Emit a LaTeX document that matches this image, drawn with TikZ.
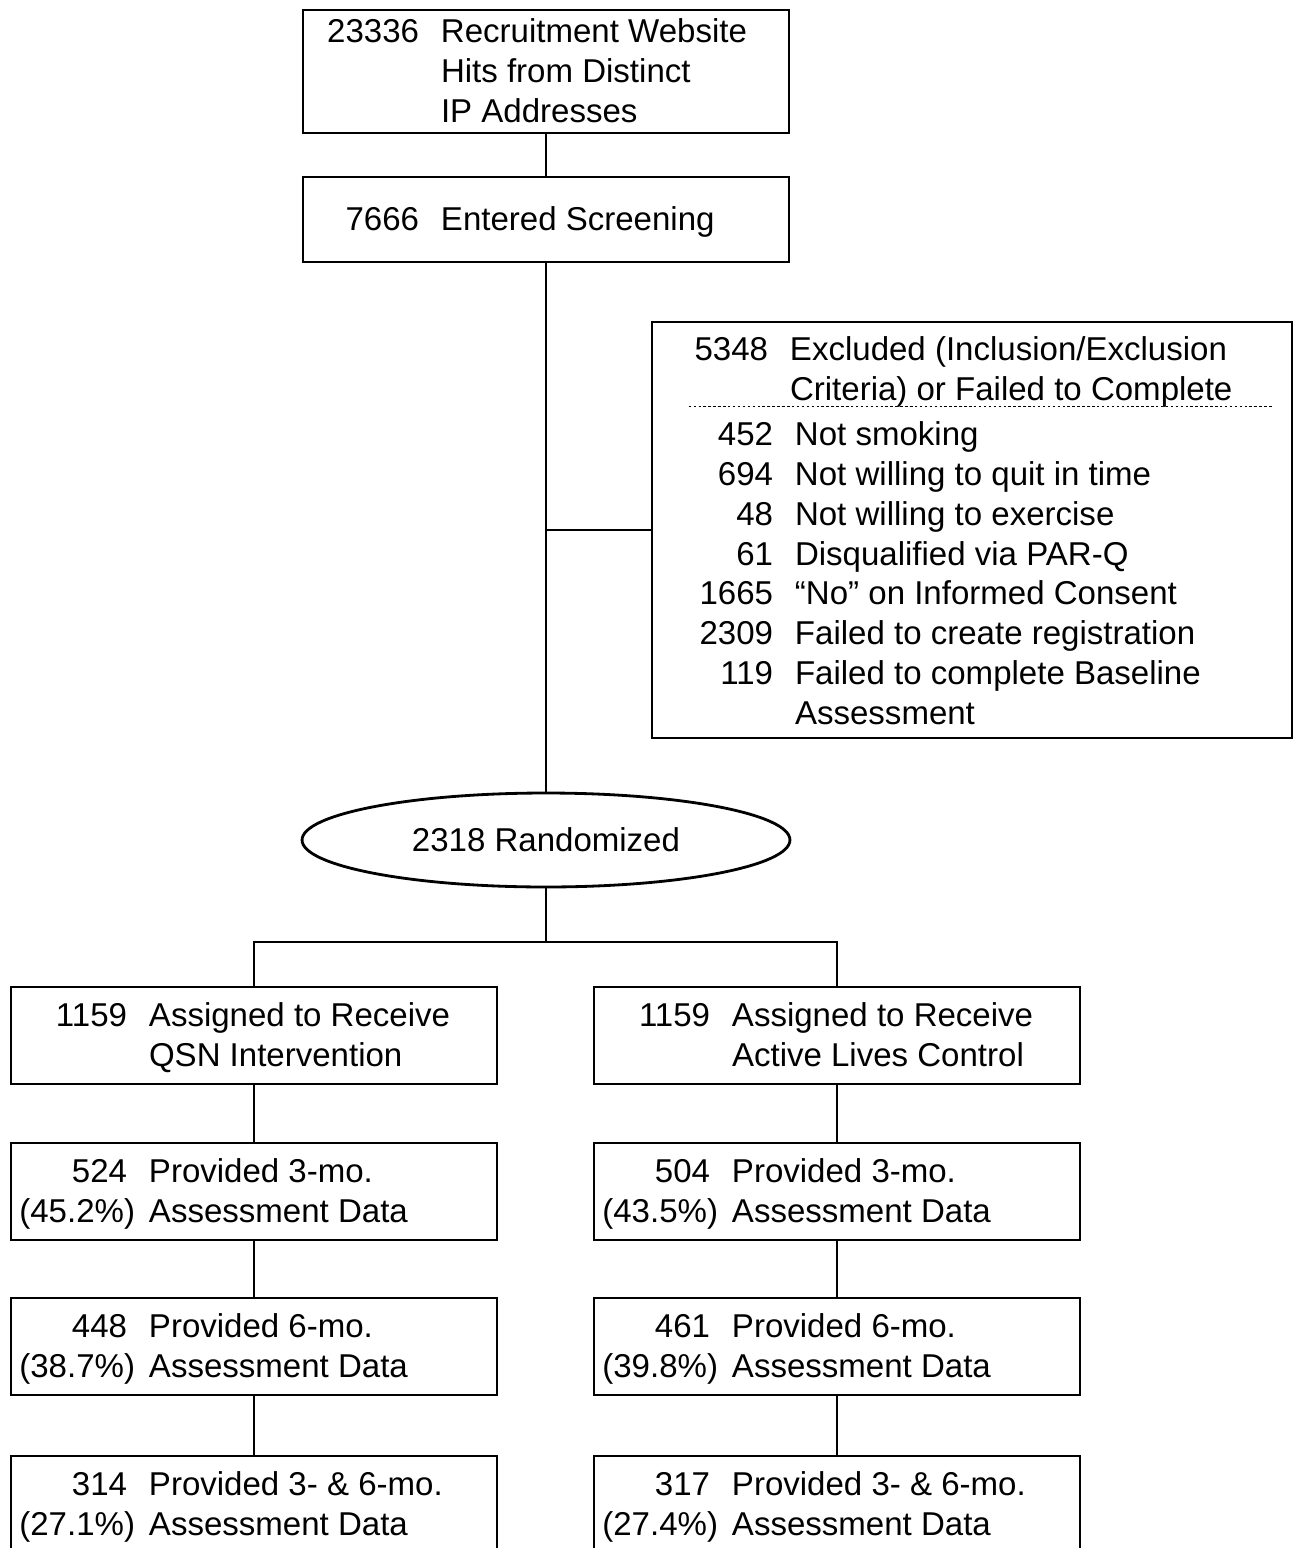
\documentclass[tikz,border=0pt]{standalone}
\usepackage{fontspec}
\setmainfont{Liberation Sans}
\usepackage{array}
\usetikzlibrary{shapes.geometric,calc}

% number column + text column, as in the boxes
\newcommand{\cnt}[1]{\begin{tabular}{@{}>{\raggedleft\arraybackslash}p{2.24cm}@{\hspace{0.44cm}}l@{}}#1\end{tabular}}
\newcommand{\pct}[1]{(#1\%)\hspace*{-0.16cm}}

\tikzset{
  flowbox/.style={draw, minimum width=9.72cm, inner sep=0pt},
  rowbox/.style={flowbox, minimum height=1.94cm},
  flowtxt/.style={anchor=west, inner sep=0pt, xshift=0.08cm, yshift=-0.06cm},
  dotline/.style={line width=0.9pt, dash pattern=on 1.4pt off 1.4pt},
}

\begin{document}
\begin{tikzpicture}[x=0.02cm, y=-0.02cm, line width=1.6pt,
  font=\fontsize{18.8}{22.76}\selectfont]
\useasboundingbox (0,0) rectangle (1293,1548);
\clip (0,0) rectangle (1293,1548);

% screening
\node[flowbox, minimum height=2.46cm] (hits) at (546,71.5) {};
\node[flowtxt] (hitstxt) at (hits.west) {\cnt{23336 & Recruitment Website\\ & Hits from Distinct\\ & IP Addresses}};
\node[flowbox, minimum height=1.7cm] (screen) at (546,219.5) {};
\node[flowtxt] (screentxt) at (screen.west) {\cnt{7666 & Entered Screening}};

% exclusions
\node[flowbox, minimum width=12.8cm, minimum height=8.32cm] (excl) at (972,530) {};
\node[anchor=north west, inner sep=0pt] (exclhead) at ($(excl.north west)+(4,10)$)
  {\cnt{5348 & Excluded (Inclusion/Exclusion\\ & Criteria) or Failed to Complete}};
\draw[dotline] ($(excl.north west)+(38,86)$) -- ($(excl.north west)+(623,86)$);
\node[anchor=north west, inner sep=0pt] (exclitems) at ($(excl.north west)+(9,95)$)
  {\cnt{452 & Not smoking\\ 694 & Not willing to quit in time\\ 48 & Not willing to exercise\\
   61 & Disqualified via PAR-Q\\ 1665 & “No” on Informed Consent\\
   2309 & Failed to create registration\\ 119 & Failed to complete Baseline\\ & Assessment}};

\node[draw, ellipse, minimum width=9.76cm, minimum height=1.88cm, inner sep=0pt] (rand) at (546,840) {2318 Randomized};

% QSN arm
\node[rowbox] (qsn1) at (254,1035.5) {};
\node[flowtxt] (qsn1txt) at (qsn1.west) {\cnt{1159 & Assigned to Receive\\ & QSN Intervention}};
\node[rowbox] (qsn2) at (254,1191.5) {};
\node[flowtxt] (qsn2txt) at (qsn2.west) {\cnt{524 & Provided 3-mo.\\ \pct{45.2} & Assessment Data}};
\node[rowbox] (qsn3) at (254,1346.5) {};
\node[flowtxt] (qsn3txt) at (qsn3.west) {\cnt{448 & Provided 6-mo.\\ \pct{38.7} & Assessment Data}};
\node[rowbox] (qsn4) at (254,1504.5) {};
\node[flowtxt] (qsn4txt) at (qsn4.west) {\cnt{314 & Provided 3- \& 6-mo.\\ \pct{27.1} & Assessment Data}};

% Active Lives arm
\node[rowbox] (alc1) at (837,1035.5) {};
\node[flowtxt] (alc1txt) at (alc1.west) {\cnt{1159 & Assigned to Receive\\ & Active Lives Control}};
\node[rowbox] (alc2) at (837,1191.5) {};
\node[flowtxt] (alc2txt) at (alc2.west) {\cnt{504 & Provided 3-mo.\\ \pct{43.5} & Assessment Data}};
\node[rowbox] (alc3) at (837,1346.5) {};
\node[flowtxt] (alc3txt) at (alc3.west) {\cnt{461 & Provided 6-mo.\\ \pct{39.8} & Assessment Data}};
\node[rowbox] (alc4) at (837,1504.5) {};
\node[flowtxt] (alc4txt) at (alc4.west) {\cnt{317 & Provided 3- \& 6-mo.\\ \pct{27.4} & Assessment Data}};

% connectors
\coordinate (split) at (546,942);
\draw (hits.south) -- (screen.north);
\draw (screen.south) -- (rand.north);
\draw (screen.south |- excl.west) -- (excl.west);
\draw (rand.south) -- (split);
\draw (qsn1.north) |- (split) -| (alc1.north);
\foreach \a/\b in {qsn1/qsn2,qsn2/qsn3,qsn3/qsn4,alc1/alc2,alc2/alc3,alc3/alc4}
  \draw (\a) -- (\b);
\end{tikzpicture}
\end{document}
